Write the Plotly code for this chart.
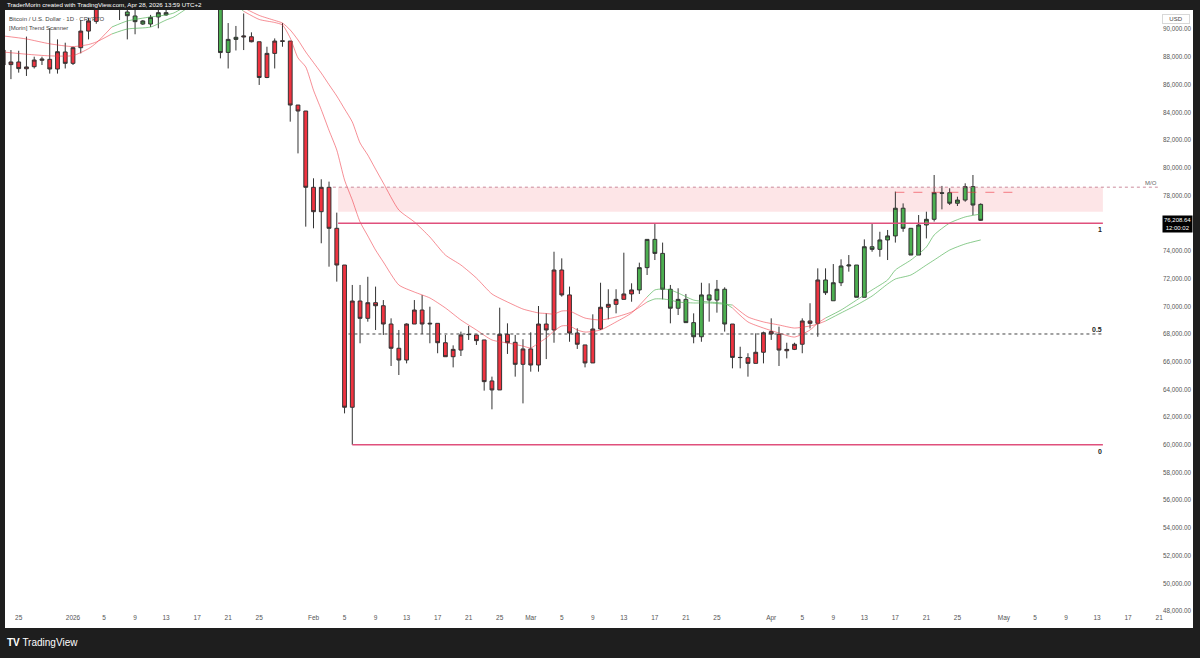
import pandas as pd
import plotly.graph_objects as go

# ---------------- data ----------------
dates = pd.date_range("2025-12-23", "2026-04-28", freq="D")

open_ = [
    # Dec 23-31
    88500, 87450, 87640, 87150, 87300, 87760, 87830, 87130, 88360,
    # Jan
    87540, 88670, 89870, 90570, 91600, 93200, 93800, 91250, 90960, 90380,
    90380, 90890, 91040, 91600, 94500, 95800, 95200, 95600, 94800, 92800,
    88330, 89270, 89440, 89460, 89100, 86520, 88260, 89170, 89150, 84530, 84100,
    # Feb
    78590, 76830, 78590, 75630, 72980, 62710, 70380, 69130, 70260, 70040,
    68720, 66970, 66120, 68720, 69730, 68720, 68770, 67370, 66360, 66840,
    67980, 67930, 67570, 64610, 63960, 67980, 67400, 65810,
    # Mar
    66920, 65760, 68720, 68290, 72620, 70820, 68070, 67210, 65910, 68360,
    69930, 70140, 70500, 70890, 71180, 72790, 74830, 73820, 71230, 69860,
    70500, 68820, 67800, 70820, 70450, 71230, 68720, 66310, 66290, 65880, 66680,
    # Apr
    68170, 67980, 66790, 66890, 67260, 68940, 68770, 71900, 70400, 71700,
    72910, 72980, 70650, 74300, 74110, 74790, 75080, 77080, 75630, 73700,
    75870, 76280, 78200, 78200, 77440, 77670, 78640, 77360,
]
high = [
    88720, 88500, 88450, 89470, 88020, 88020, 90070, 89270, 89030,
    88740, 90670, 90810, 92100, 93800, 94500, 94200, 92300, 91600, 90670,
    91040, 91800, 92000, 95000, 96500, 96800, 96000, 95900, 95100, 93000,
    90450, 90240, 91140, 89780, 89100, 88740, 89340, 90450, 89150, 84530, 84100,
    79240, 79170, 79000, 76760, 72980, 71540, 71540, 72130, 71420, 70450,
    69130, 68290, 68770, 70450, 70810, 69970, 68770, 67930, 67180, 68170,
    68580, 67930, 67570, 64920, 69900, 68770, 67930, 67620,
    68120, 70020, 69490, 73940, 73460, 71420, 68410, 67210, 69420, 71700,
    71230, 71230, 73870, 71660, 73150, 74830, 75940, 74600, 71540, 71300,
    70890, 69490, 71700, 71660, 71900, 71370, 68720, 67080, 66610, 68050, 68170,
    69130, 68530, 67370, 67370, 69130, 70220, 72740, 72740, 73050, 73390,
    73700, 72980, 74830, 75990, 75380, 75510, 78280, 77430, 75630, 76590,
    76830, 79480, 78690, 78520, 77910, 78880, 79480, 77430,
]
low = [
    86560, 86400, 86870, 86630, 87170, 87420, 86800, 86800, 87170,
    87420, 88260, 89270, 90400, 91500, 92500, 90670, 89270, 89640, 90310,
    90160, 90070, 90970, 91500, 94000, 94600, 94800, 94200, 92100, 87900,
    87170, 88470, 88500, 89060, 85980, 86470, 87170, 88740, 83330, 81040, 75750,
    75630, 74550, 72860, 71780, 62270, 60000, 67330, 68890, 68290, 67930,
    65690, 65040, 65880, 68720, 68000, 67330, 66610, 66360, 65590, 66410,
    67570, 67210, 63910, 62560, 63960, 66560, 64920, 62990,
    65280, 65280, 66190, 67370, 70700, 67440, 66920, 65590, 65910, 68290,
    69060, 69490, 70500, 70330, 70890, 72260, 73340, 70500, 68770, 69370,
    68820, 67330, 67440, 68890, 69540, 68170, 65520, 65520, 64920, 65880, 65880,
    67570, 65690, 66240, 66840, 66610, 68400, 67800, 70820, 70400, 71460,
    72500, 70650, 70650, 73940, 73580, 73340, 74600, 75380, 73700, 73700,
    74900, 76120, 77000, 77310, 77240, 77550, 76590, 76160,
]
close = [
    87420, 87640, 87160, 87280, 87780, 87850, 87130, 88380, 87540,
    88670, 89870, 90600, 91600, 93200, 93800, 92000, 90980, 90550, 90600,
    90860, 91200, 91200, 94500, 95800, 95200, 95600, 94800, 92800, 88320,
    89270, 89420, 89510, 89100, 86520, 88260, 89150, 89130, 84530, 84100, 78590,
    76830, 78590, 75630, 72980, 62710, 70380, 69130, 70260, 70040, 68720,
    66970, 66120, 68720, 69730, 68720, 68770, 67370, 66360, 66890, 67930,
    67960, 67520, 64560, 63960, 67980, 67370, 65810, 66920,
    65760, 68720, 68290, 72620, 70820, 68070, 67260, 65910, 68360, 69930,
    70140, 70500, 70890, 71180, 72790, 74830, 73820, 71230, 69860, 70500,
    68820, 67800, 70820, 70450, 71230, 68720, 66310, 66300, 65880, 66680, 68090,
    68000, 66840, 66890, 67260, 68940, 68770, 71900, 70980, 71700, 72910,
    72980, 70650, 74300, 74110, 74790, 75080, 77080, 75630, 73700, 75870,
    76280, 78200, 78160, 77440, 77670, 78640, 77310, 76208.64,
]
# Trend Scanner colouring of the candles (runs of days)
trend_runs = [("r", 13), ("g", 18), ("r", 51), ("g", 12), ("r", 12), ("g", 21)]
candle_trend = [c for c, n in trend_runs for _ in range(n)]

# Trend Scanner moving-average lines
ema_dates = [
    "2025-12-23", "2025-12-26", "2025-12-29", "2026-01-01", "2026-01-03", "2026-01-04",
    "2026-01-06", "2026-01-08", "2026-01-11", "2026-01-13", "2026-01-14", "2026-01-15",
    "2026-01-17", "2026-01-19", "2026-01-21", "2026-01-23", "2026-01-25", "2026-01-27",
    "2026-01-28", "2026-01-29", "2026-01-30", "2026-01-31", "2026-02-01", "2026-02-02",
    "2026-02-03", "2026-02-04", "2026-02-05", "2026-02-06", "2026-02-07", "2026-02-08",
    "2026-02-09", "2026-02-10", "2026-02-12", "2026-02-14", "2026-02-16", "2026-02-18",
    "2026-02-20", "2026-02-22", "2026-02-24", "2026-02-26", "2026-02-28", "2026-03-01",
    "2026-03-02", "2026-03-03", "2026-03-04", "2026-03-05", "2026-03-06", "2026-03-07",
    "2026-03-08", "2026-03-10", "2026-03-12", "2026-03-14", "2026-03-16", "2026-03-17",
    "2026-03-18", "2026-03-19", "2026-03-20", "2026-03-22", "2026-03-24", "2026-03-26",
    "2026-03-27", "2026-03-29", "2026-03-31", "2026-04-02", "2026-04-04", "2026-04-06",
    "2026-04-07", "2026-04-08", "2026-04-10", "2026-04-12", "2026-04-14", "2026-04-16",
    "2026-04-17", "2026-04-19", "2026-04-21", "2026-04-22", "2026-04-24", "2026-04-26",
    "2026-04-28",
]
ema_fast = [
    88360, 88200, 88080, 88100, 88600, 89010,
    90160, 90600, 90890, 91030, 91180, 91500,
    92600, 93000, 92200, 91300, 90710, 90490,
    90310, 89370, 87930, 87280, 85600, 84200,
    82700, 81280, 79120, 77670, 76090, 75080,
    74060, 73200, 71540, 71030, 70600, 69880,
    69010, 68290, 67570, 67350, 67130, 66990,
    67350, 67710, 68220, 68580, 68580, 68290,
    68140, 68290, 68870, 69520, 70670, 71180,
    71250, 71180, 70960, 70450, 70310, 70200,
    69880, 68870, 68430, 68070, 67780, 68290,
    68790, 69150, 69730, 70450, 71180, 71900,
    72620, 73340, 74280, 75150, 76010, 76450,
    76660,
]
ema_slow = [
    89520, 89300, 88950, 88750, 88900, 89080,
    89660, 90020, 90160, 90670, 90890, 91250,
    92000, 92500, 92300, 91550, 91000, 90640,
    90450, 89950, 89230, 88360, 87600, 86840,
    86000, 85180, 84250, 83310, 81790, 80920,
    79900, 78900, 76950, 76090, 75000, 73700,
    72980, 72040, 70890, 70310, 69800, 69650,
    69520, 69480, 69440, 69660, 69660, 69400,
    69150, 69010, 69230, 69590, 70310, 70530,
    70530, 70450, 70310, 70240, 70240, 70150,
    70090, 69230, 68870, 68650, 68430, 68580,
    68720, 68940, 69520, 70090, 70740, 71610,
    71970, 72260, 72980, 73340, 74060, 74500,
    74790,
]
ema_trend = (["r"] * 6 + ["g"] * 9 + ["r"] * 37 + ["g"] * 8 + ["r"] * 7 + ["g"] * 12)

# drawn levels
fib_levels = [60000, 68000, 76000]
fib_labels = ["0", "0.5", "1"]
zone_low, zone_high = 76830, 78590
monthly_open = 78600
short_level = 78230
last_price = 76208.64
last_time = "12:00:02"

x_tick_dates = [
    "2025-12-25", "2026-01-01", "2026-01-05", "2026-01-09", "2026-01-13", "2026-01-17",
    "2026-01-21", "2026-01-25", "2026-02-01", "2026-02-05", "2026-02-09", "2026-02-13",
    "2026-02-17", "2026-02-21", "2026-02-25", "2026-03-01", "2026-03-05", "2026-03-09",
    "2026-03-13", "2026-03-17", "2026-03-21", "2026-03-25", "2026-04-01", "2026-04-05",
    "2026-04-09", "2026-04-13", "2026-04-17", "2026-04-21", "2026-04-25", "2026-05-01",
    "2026-05-05", "2026-05-09", "2026-05-13", "2026-05-17", "2026-05-21",
]
x_tick_labels = [
    "25", "2026", "5", "9", "13", "17", "21", "25", "Feb", "5", "9", "13", "17", "21",
    "25", "Mar", "5", "9", "13", "17", "21", "25", "Apr", "5", "9", "13", "17", "21",
    "25", "May", "5", "9", "13", "17", "21",
]
# price-scale labels (76,000 sits under the last-price tag in the reference)
y_ticks = [48000, 50000, 52000, 54000, 56000, 58000, 60000, 62000, 64000, 66000, 68000,
           70000, 72000, 74000, 78000, 80000, 82000, 84000, 86000, 88000, 90000]

# ---------------- styling ----------------
FONT = "Liberation Sans"
RED = "#ef3340"
GREEN = "#4caf50"
EDGE = "#333333"
DARK = "#1e1e1e"
W, H = 1200, 658
ML, MR, MT, MB = 5, 40, 10, 46
PW, PH = W - ML - MR, H - MT - MB


def px(x):
    return (x - ML) / PW


def py(y):
    return (H - MB - y) / PH


fig = go.Figure()

# candles, coloured by trend state
for col, fill in (("r", RED), ("g", GREEN)):
    idx = [i for i, c in enumerate(candle_trend) if c == col]
    style = dict(fillcolor=fill, line=dict(color=EDGE, width=1))
    fig.add_trace(go.Candlestick(
        x=[dates[i] for i in idx],
        open=[open_[i] for i in idx], high=[high[i] for i in idx],
        low=[low[i] for i in idx], close=[close[i] for i in idx],
        increasing=style, decreasing=style, whiskerwidth=0,
        showlegend=False, hoverinfo="skip",
    ))

# trend lines split into coloured runs
LINE_COL = {"r": "rgba(239,51,64,0.55)", "g": "rgba(76,175,80,0.65)"}
for series in (ema_fast, ema_slow):
    start = 0
    n = len(ema_dates)
    for i in range(1, n + 1):
        if i == n or ema_trend[i] != ema_trend[start]:
            end = min(i, n - 1)
            fig.add_trace(go.Scatter(
                x=ema_dates[start:end + 1], y=series[start:end + 1], mode="lines",
                line=dict(color=LINE_COL[ema_trend[start]], width=1, shape="spline", smoothing=0.6),
                showlegend=False, hoverinfo="skip",
            ))
            start = i

FIB_START = ["2026-02-06", "2026-02-05 12:00", "2026-02-04 04:00"]
FIB_END = "2026-05-13 18:00"
shapes = [
    dict(type="rect", xref="x", yref="y", x0="2026-02-04 04:00", x1=FIB_END,
         y0=zone_low, y1=zone_high, fillcolor="rgba(242,54,69,0.13)", line=dict(width=0), layer="below"),
    dict(type="line", xref="x", yref="y", x0="2026-02-03 12:00", x1="2026-05-20 20:00",
         y0=monthly_open, y1=monthly_open, line=dict(color="rgba(190,110,130,0.8)", width=1, dash="dot")),
    dict(type="line", xref="x", yref="y", x0="2026-04-17", x1="2026-05-02 20:00",
         y0=short_level, y1=short_level, line=dict(color="rgba(239,51,64,0.6)", width=1, dash="dash")),
]
for lvl, lab, x0 in zip(fib_levels, fib_labels, FIB_START):
    if lab == "0.5":
        ln = dict(color="#444444", width=1, dash="3px,3px")
    else:
        ln = dict(color="#e0507c", width=1.6)
    shapes.append(dict(type="line", xref="x", yref="y", x0=x0, x1=FIB_END, y0=lvl, y1=lvl, line=ln))

# dark TradingView frame
for x0, x1, y0, y1 in ((0, W, 0, MT), (0, W, 628, H), (0, ML, 0, H), (1193, W, 0, H)):
    shapes.append(dict(type="rect", xref="paper", yref="paper", x0=px(x0), x1=px(x1),
                       y0=py(y1), y1=py(y0), fillcolor=DARK, line=dict(width=0), layer="above"))

annotations = [
    dict(xref="paper", yref="paper", x=px(5), y=py(5), xanchor="left", yanchor="middle",
         text="TraderMorin created with TradingView.com, Apr 28, 2026 13:59 UTC+2",
         showarrow=False, font=dict(family=FONT, size=6.2, color="#ffffff")),
    dict(xref="paper", yref="paper", x=px(7), y=py(19), xanchor="left", yanchor="middle",
         text="Bitcoin / U.S. Dollar · 1D · CRYPTO", showarrow=False,
         font=dict(family=FONT, size=6, color="#444444")),
    dict(xref="paper", yref="paper", x=px(7), y=py(28), xanchor="left", yanchor="middle",
         text="[Morin] Trend Scanner", showarrow=False, font=dict(family=FONT, size=6, color="#444444")),
    dict(xref="paper", yref="paper", x=px(5), y=py(642), xanchor="left", yanchor="middle",
         text="<b>TV</b> TradingView", showarrow=False, font=dict(family=FONT, size=10, color="#ffffff")),
    dict(xref="paper", yref="paper", x=px(1176), y=py(19), xanchor="center", yanchor="middle",
         text="USD", showarrow=False, bgcolor="#ffffff", bordercolor="#d8d8d8", borderwidth=1, borderpad=1,
         width=24, font=dict(family=FONT, size=6, color="#444444")),
    dict(xref="paper", yref="y", x=px(1177), y=last_price, xanchor="center", yanchor="middle", yshift=-4,
         text=f"{last_price:,.2f}<br>{last_time}", showarrow=False, bgcolor="#000000", borderpad=1,
         font=dict(family=FONT, size=6, color="#ffffff")),
    dict(xref="paper", yref="paper", x=px(1151), y=py(183), xanchor="center", yanchor="middle",
         text="M/O", showarrow=False, font=dict(family=FONT, size=6, color="#666666")),
]
FIB_LABEL_POS = {"0": (1100, 451), "0.5": (1097, 329), "1": (1100, 229)}
for lab in fib_labels:
    lx, ly = FIB_LABEL_POS[lab]
    annotations.append(dict(xref="paper", yref="paper", x=px(lx), y=py(ly), xanchor="center",
                            yanchor="middle", text=f"<b>{lab}</b>", showarrow=False,
                            font=dict(family=FONT, size=7, color="#222222")))

fig.update_layout(
    width=W, height=H, margin=dict(l=ML, r=MR, t=MT, b=MB, autoexpand=False),
    paper_bgcolor="#ffffff", plot_bgcolor="#ffffff", boxmode="overlay",
    showlegend=False, shapes=shapes, annotations=annotations,
    font=dict(family=FONT, size=6.5, color="#555555"),
    xaxis=dict(type="date", range=["2025-12-23 05:38", "2026-05-21 02:40"],
               tickvals=x_tick_dates, ticktext=x_tick_labels, tickangle=0,
               showgrid=False, zeroline=False, showline=False, ticks="",
               tickfont=dict(family=FONT, size=6.5, color="#555555"),
               rangeslider=dict(visible=False), automargin=False, fixedrange=True),
    yaxis=dict(side="right", range=[47928, 91392], tickvals=y_ticks,
               ticktext=[f"{v:,.2f}" for v in y_ticks], showgrid=False, zeroline=False,
               showline=False, ticks="", ticklabelstandoff=2,
               tickfont=dict(family=FONT, size=6.3, color="#555555"),
               automargin=False, fixedrange=True),
)

fig.write_html("out.html")
